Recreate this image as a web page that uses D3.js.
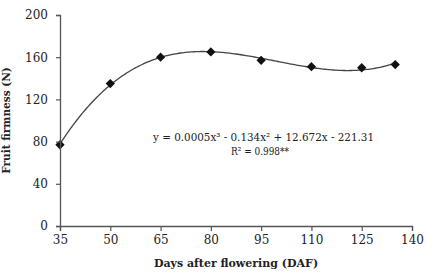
<!DOCTYPE html>
<html>
<head>
<meta charset="utf-8">
<script src="https://cdn.jsdelivr.net/npm/d3@7"></script>
<style>
  body { margin: 0; background: #fff; }
  svg { display: block; font-family: "DejaVu Serif", serif; }
</style>
</head>
<body>
<div id="chart"></div>
<script>
const days = [35, 50, 65, 80, 95, 110, 125, 135];
const firmness = [77, 135, 160, 165, 157, 151, 150, 153];
const xTicks = [35, 50, 65, 80, 95, 110, 125, 140];
const yTicks = [0, 40, 80, 120, 160, 200];

const margin = {top: 15, right: 15, bottom: 46, left: 60};
const width = 427 - margin.left - margin.right;
const height = 272 - margin.top - margin.bottom;

const svg = d3.select("#chart").append("svg")
    .attr("width", 427).attr("height", 272)
    .append("g")
    .attr("transform", `translate(${margin.left},${margin.top})`);

const x = d3.scaleLinear().domain([35, 140]).range([0, 352]);
const y = d3.scaleLinear().domain([0, 200]).range([height, 0]);

// cubic least squares trend line through the points
function polyFit(xs, ys, deg) {
    const n = deg + 1;
    const A = Array.from({length: n}, () => new Array(n + 1).fill(0));
    xs.forEach((xv, k) => {
        for (let i = 0; i < n; i++) {
            for (let j = 0; j < n; j++) A[i][j] += Math.pow(xv, i + j);
            A[i][n] += ys[k] * Math.pow(xv, i);
        }
    });
    for (let i = 0; i < n; i++) {
        let p = i;
        for (let r = i + 1; r < n; r++) if (Math.abs(A[r][i]) > Math.abs(A[p][i])) p = r;
        [A[i], A[p]] = [A[p], A[i]];
        for (let r = 0; r < n; r++) {
            if (r === i) continue;
            const f = A[r][i] / A[i][i];
            for (let c = i; c <= n; c++) A[r][c] -= f * A[i][c];
        }
    }
    return A.map((row, i) => row[n] / row[i]);
}
const xm = d3.mean(days);
const coef = polyFit(days.map(d => d - xm), firmness, 3);
const fit = t => coef.reduce((s, c, i) => s + c * Math.pow(t - xm, i), 0);
const trend = d3.range(35, 135.01, 0.5).map(t => [t, fit(t)]);

svg.append("path")
    .datum(trend)
    .attr("fill", "none")
    .attr("stroke", "#444")
    .attr("stroke-width", 1.3)
    .attr("d", d3.line().x(d => x(d[0])).y(d => y(d[1])));

svg.selectAll(".pt")
    .data(days)
    .enter().append("path")
    .attr("class", "pt")
    .attr("transform", (d, i) => `translate(${x(d)},${y(firmness[i])})`)
    .attr("d", d3.symbol(d3.symbolDiamond2, 55))
    .attr("fill", "#111");

const xAxis = svg.append("g")
    .attr("transform", `translate(0,${height})`)
    .call(d3.axisBottom(x).tickValues(xTicks).tickSize(5).tickPadding(4));
const yAxis = svg.append("g")
    .call(d3.axisLeft(y).tickValues(yTicks).tickSize(4).tickPadding(8));

[xAxis, yAxis].forEach(g => {
    g.select(".domain").attr("stroke", "#555").attr("stroke-width", 1.3);
    g.selectAll(".tick line").attr("stroke", "#555").attr("stroke-width", 1.2);
    g.selectAll(".tick text")
        .attr("fill", "#222")
        .style("font-family", "DejaVu Serif, serif")
        .style("font-size", "12px");
});

svg.append("text")
    .attr("x", x(87.5))
    .attr("y", height + 41)
    .attr("text-anchor", "middle")
    .style("font-size", "11px")
    .style("font-weight", "bold")
    .attr("fill", "#222")
    .text("Days after flowering (DAF)");

svg.append("text")
    .attr("transform", `translate(${-50},${y(100)}) rotate(-90)`)
    .attr("text-anchor", "middle")
    .style("font-size", "10.5px")
    .style("font-weight", "bold")
    .attr("fill", "#222")
    .text("Fruit firmness (N)");

// equation label
svg.append("text")
    .attr("x", 93).attr("y", 126)
    .attr("textLength", 221)
    .attr("lengthAdjust", "spacingAndGlyphs")
    .style("font-size", "11px")
    .attr("fill", "#222")
    .text("y = 0.0005x³ - 0.134x² + 12.672x - 221.31");
svg.append("text")
    .attr("x", 171).attr("y", 140)
    .attr("textLength", 58)
    .attr("lengthAdjust", "spacingAndGlyphs")
    .style("font-size", "11px")
    .attr("fill", "#222")
    .text("R² = 0.998**");
</script>
</body>
</html>
